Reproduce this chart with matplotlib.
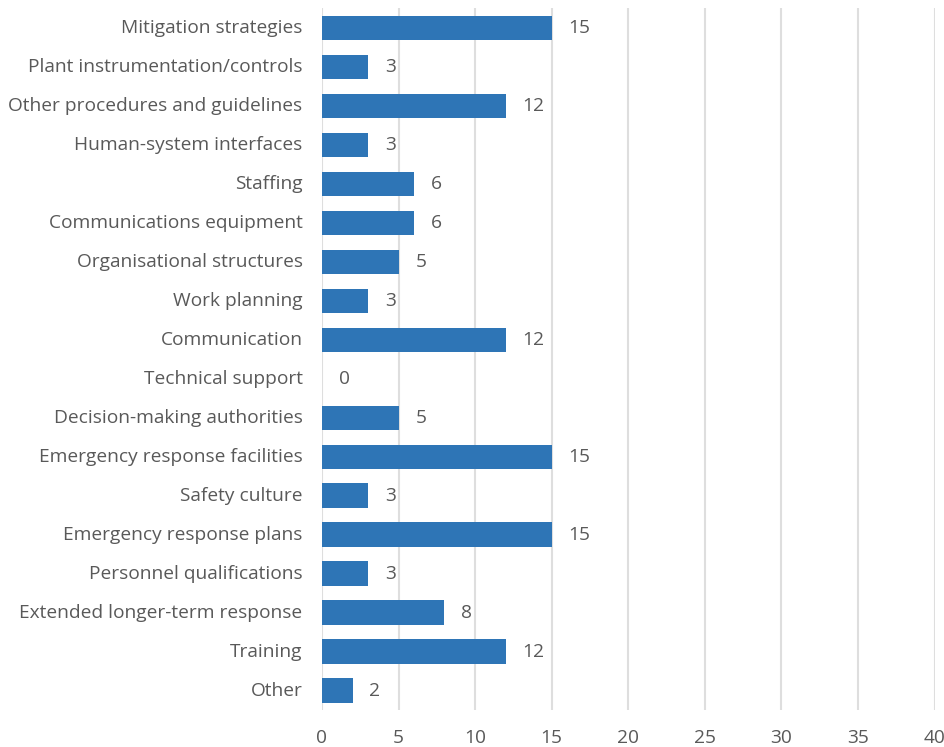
import matplotlib
matplotlib.use("Agg")
import matplotlib.pyplot as plt

categories = ["Mitigation strategies", "Plant instrumentation/controls",
              "Other procedures and guidelines", "Human-system interfaces",
              "Staffing", "Communications equipment", "Organisational structures",
              "Work planning", "Communication", "Technical support",
              "Decision-making authorities", "Emergency response facilities",
              "Safety culture", "Emergency response plans",
              "Personnel qualifications", "Extended longer-term response",
              "Training", "Other"]
counts = [15, 3, 12, 3, 6, 6, 5, 3, 12, 0, 5, 15, 3, 15, 3, 8, 12, 2]
xticks = [0, 5, 10, 15, 20, 25, 30, 35, 40]

plt.rcParams['font.family'] = ['Open Sans', 'DejaVu Sans']
txt = '#595959'
fs = 13.8

fig = plt.figure(figsize=(9.45, 7.47), dpi=100)
ax = fig.add_axes([0.3407, 0.0495, 0.6483, 0.9395])

ypos = list(range(len(categories)))
ax.barh(ypos, counts, height=0.62, color='#2E75B6', zorder=3)
for y, v in zip(ypos, counts):
    ax.text(v + 1.1, y, str(v), va='center', ha='left', fontsize=fs, color=txt)

ax.set_ylim(len(categories) - 0.5, -0.5)
ax.set_xlim(0, 40)
ax.set_xticks(xticks)
ax.set_yticks(ypos)
ax.set_yticklabels(categories, va='center')
ax.tick_params(axis='both', length=0, labelsize=fs, colors=txt)
ax.tick_params(axis='y', pad=14)
ax.tick_params(axis='x', pad=14)
ax.grid(axis='x', color='#DEDEDE', linewidth=1.5, zorder=0)
for s in ax.spines.values():
    s.set_visible(False)

fig.savefig('out.png', dpi=100)
